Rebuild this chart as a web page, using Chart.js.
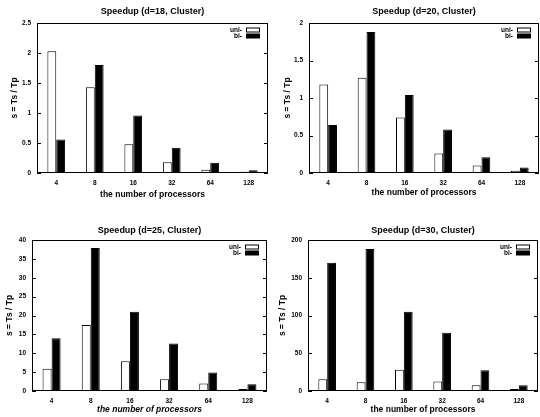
<!DOCTYPE html>
<html>
<head>
<meta charset="utf-8">
<script src="https://cdn.jsdelivr.net/npm/chart.js@4"></script>
<style>
  body { margin: 0; background: #fff; }
  #wrap { position: relative; width: 540px; height: 417px; overflow: hidden; }
  .panel { position: absolute; }
</style>
</head>
<body>
<div id="wrap">
  <canvas class="panel" id="c18" width="270" height="207" style="left:0;top:0"></canvas>
  <canvas class="panel" id="c20" width="270" height="207" style="left:270px;top:0"></canvas>
  <canvas class="panel" id="c25" width="270" height="210" style="left:0;top:207px"></canvas>
  <canvas class="panel" id="c30" width="270" height="210" style="left:270px;top:207px"></canvas>
</div>
<script>
// processors on the x axis
const categories = ["4", "8", "16", "32", "64", "128"];
const seriesNames = ["uni-", "bi-"];

// speedup values
const uniD18 = [2.03, 1.43, 0.48, 0.18, 0.055, 0.02];
const biD18  = [0.56, 1.80, 0.96, 0.42, 0.17, 0.045];
const uniD20 = [1.18, 1.27, 0.74, 0.26, 0.10, 0.03];
const biD20  = [0.64, 1.88, 1.04, 0.58, 0.21, 0.075];
const uniD25 = [5.9, 17.5, 7.9, 3.1, 2.0, 0.5];
const biD25  = [14.0, 37.9, 21.0, 12.6, 4.9, 1.8];
const uniD30 = [15.5, 11.5, 28, 12.5, 7.5, 2.5];
const biD30  = [170, 188, 105, 77, 27.5, 7.5];

const yMaxes = [2.5, 2, 40, 200];
const ySteps = [0.5, 0.5, 5, 50];
const titles = ["Speedup (d=18, Cluster)", "Speedup (d=20, Cluster)",
                "Speedup (d=25, Cluster)", "Speedup (d=30, Cluster)"];

const FONT = "'Liberation Sans', Arial, sans-serif";

// gnuplot-ish frame, inward ticks and key drawn inside the plot
const framePlugin = {
  id: "frame",
  afterDraw(chart) {
    const ctx = chart.ctx;
    const a = chart.chartArea;
    const y = chart.scales.y;
    ctx.save();
    ctx.strokeStyle = "#000";
    ctx.lineWidth = 1;
    ctx.strokeRect(a.left + 0.5, a.top + 0.5, a.right - a.left - 1, a.bottom - a.top - 1);
    y.ticks.forEach(t => {
      const py = Math.round(y.getPixelForValue(t.value)) + 0.5;
      ctx.beginPath();
      ctx.moveTo(a.left, py); ctx.lineTo(a.left + 4, py);
      ctx.moveTo(a.right, py); ctx.lineTo(a.right - 4, py);
      ctx.stroke();
    });
    // key
    ctx.font = "bold 6.5px " + FONT;
    ctx.textAlign = "right";
    ctx.textBaseline = "middle";
    ctx.fillStyle = "#000";
    chart.data.datasets.forEach((ds, i) => {
      const ky = a.top + 7 + i * 6;
      const bx = a.right - 22;
      ctx.fillText(ds.label, bx - 4, ky);
      ctx.fillStyle = ds.backgroundColor;
      ctx.fillRect(bx + 0.5, ky - 2, 13, 4);
      ctx.strokeRect(bx + 0.5, ky - 2, 13, 4);
      ctx.fillStyle = "#000";
    });
    ctx.restore();
  }
};

const panels = [
  { id: "c18", uni: uniD18, bi: biD18, left: 37, right: 2, top: 23, titleTop: 7, xh: 34, xtPad: 7, ytPad: 10, italic: false },
  { id: "c20", uni: uniD20, bi: biD20, left: 39, right: 1, top: 23, titleTop: 7, xh: 34, xtPad: 9, ytPad: 13, italic: false },
  { id: "c25", uni: uniD25, bi: biD25, left: 32, right: 3, top: 33, titleTop: 19, xh: 26, xtPad: 2.5, ytPad: 5, italic: true },
  { id: "c30", uni: uniD30, bi: biD30, left: 38, right: 2, top: 33, titleTop: 19, xh: 26, xtPad: 2.5, ytPad: 8, italic: false }
];

panels.forEach((p, i) => {
  new Chart(p.id, {
    type: "bar",
    data: {
      labels: categories,
      datasets: [
        { label: seriesNames[0], data: p.uni, backgroundColor: "#fff", borderColor: "#000", borderWidth: 1 },
        { label: seriesNames[1], data: p.bi, backgroundColor: "#000", borderColor: "#000", borderWidth: 1 }
      ]
    },
    options: {
      responsive: false,
      animation: false,
      layout: { padding: { left: 0, right: p.right, top: 0, bottom: 0 } },
      datasets: { bar: { categoryPercentage: 0.46, barPercentage: 1.0 } },
      plugins: {
        legend: { display: false },
        tooltip: { enabled: false },
        title: {
          display: true,
          fullSize: false,
          text: titles[i],
          color: "#000",
          font: { family: FONT, size: 9, weight: "bold", lineHeight: 1.2 },
          padding: { top: p.titleTop - 0.5, bottom: p.top - p.titleTop - 10.3 }
        }
      },
      scales: {
        x: {
          grid: { display: false, drawTicks: false },
          border: { display: false },
          ticks: { color: "#000", font: { family: FONT, size: 6.5, weight: "bold" }, padding: 6, maxRotation: 0 },
          title: {
            display: true,
            text: "the number of processors",
            color: "#000",
            font: { family: FONT, size: 8.5, weight: "bold", style: p.italic ? "italic" : "normal" },
            padding: { top: 0, bottom: p.xtPad }
          },
          afterFit(scale) { scale.height = p.xh; }
        },
        y: {
          min: 0,
          max: yMaxes[i],
          grid: { display: false, drawTicks: false },
          border: { display: false },
          ticks: {
            stepSize: ySteps[i], color: "#000", padding: 6,
            font: { family: FONT, size: 6.5, weight: "bold" },
            callback: v => String(+v.toFixed(2))
          },
          title: {
            display: true,
            text: "s = Ts / Tp",
            color: "#000",
            font: { family: FONT, size: 8.5, weight: "bold" },
            padding: { top: p.ytPad, bottom: 0 }
          },
          afterFit(scale) { scale.width = p.left; }
        }
      }
    },
    plugins: [framePlugin]
  });
});
</script>
</body>
</html>
